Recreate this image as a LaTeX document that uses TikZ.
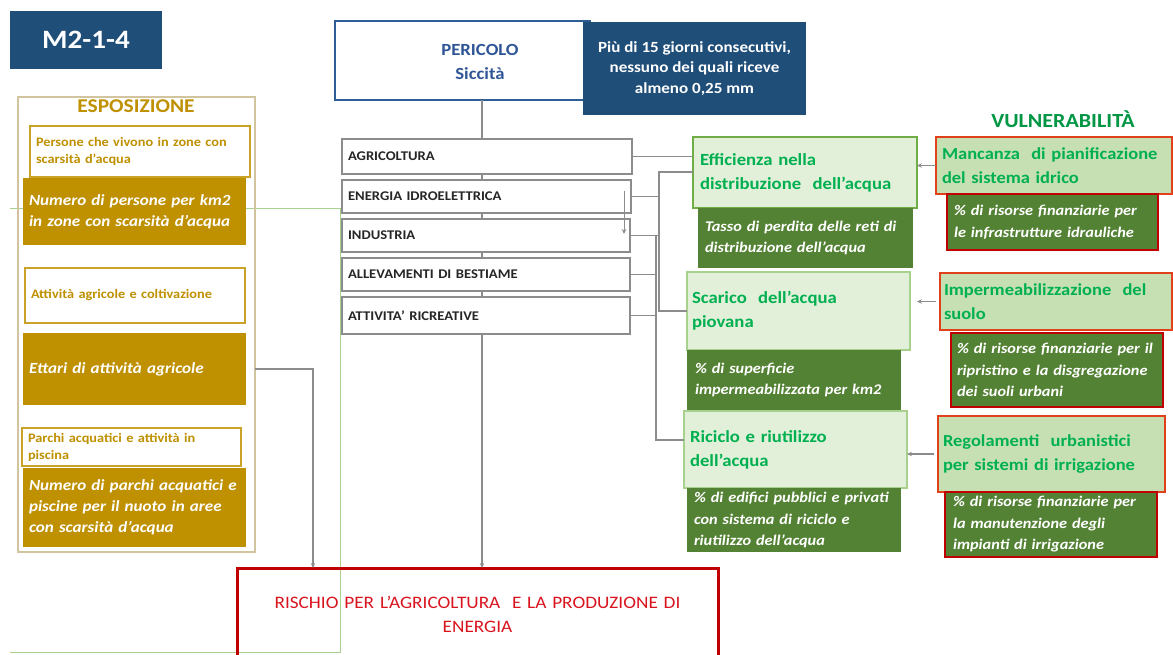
\documentclass[tikz,border=0pt]{standalone}
\usepackage{fontspec}
\setmainfont{Carlito}[FakeStretch=1.1]
\usetikzlibrary{arrows.meta}
\definecolor{dblue}{HTML}{1F4E79}
\definecolor{pblue}{HTML}{2E5E96}
\definecolor{ptext}{HTML}{2F5597}
\definecolor{gold}{HTML}{BF9000}
\definecolor{goldline}{HTML}{C9A227}
\definecolor{tanline}{HTML}{D2C49E}
\definecolor{lgray}{HTML}{8C8C8C}
\definecolor{gtext}{HTML}{00B050}
\definecolor{lgreen}{HTML}{E2F0D9}
\definecolor{lgreenb}{HTML}{C6E0B4}
\definecolor{gborder}{HTML}{70AD47}
\definecolor{gborderb}{HTML}{A9D18E}
\definecolor{dgreen}{HTML}{548235}
\definecolor{rborder}{HTML}{E0401A}
\definecolor{dred}{HTML}{C00000}
\definecolor{risktext}{HTML}{D9141E}
\newcommand{\fsz}[2]{\fontsize{#1}{#2}\selectfont}
\begin{document}
\begin{tikzpicture}[x=1pt,y=-1pt,
  every node/.style={inner ysep=0pt, outer sep=0pt},
  bxbase/.style={anchor=north west, align=left, inner xsep=6pt},
  gline/.style={draw=gborderb, line width=0.8pt},
  espbox/.style={anchor=north west, draw=tanline, line width=1.2pt},
  pbox/.style={bxbase, draw=goldline, line width=2pt, fill=white, text=gold, font=\fsz{13}{17}\bfseries},
  nbox/.style={bxbase, fill=gold, text=white, font=\fsz{15.5}{21}\bfseries\itshape},
  sector/.style={bxbase, draw=lgray, line width=1.8pt, fill=white, text=black!85, font=\fsz{13.3}{15}\bfseries},
  gbox/.style={bxbase, draw=gborder, line width=1.5pt, fill=lgreen, text=gtext, font=\fsz{17}{24}\bfseries},
  dbox/.style={bxbase, fill=dgreen, text=white, font=\fsz{14.8}{21.5}\bfseries\itshape},
  rbox/.style={bxbase, draw=rborder, line width=2pt, fill=lgreenb, text=gtext, font=\fsz{16.8}{24}\bfseries},
  rdbox/.style={dbox, draw=dred, line width=1.5pt},
  conn/.style={draw=lgray, line width=1.3pt},
  arr/.style={conn, -{Stealth[length=5pt,width=4.5pt]}}]
\useasboundingbox (0,0) rectangle (1173,654);

% thin green frame line
\draw[gline] (10,208) -- (340,208) -- (340,652) -- (10,652);

% title
\node[fill=dblue, anchor=north west, minimum width=152pt, minimum height=58pt, text=white, font=\fsz{26.5}{30}\bfseries] (m2) at (10,11) {M2-1-4};

% ESPOSIZIONE
\node[espbox, minimum width=237pt, minimum height=455pt] (esp) at (18,97) {};
\node[text=gold, font=\fsz{19.5}{20}\bfseries] (esptitle) at (136,106) {ESPOSIZIONE};
\node[pbox, minimum width=220pt, minimum height=51pt, text width=208pt] (p1) at (30,126) {Persone che vivono in zone con\\scarsità d'acqua};
\node[nbox, minimum width=223pt, minimum height=67pt, text width=211pt] (n1) at (23,178) {Numero di persone per km2\\in zone con scarsità d'acqua};
\node[pbox, minimum width=220pt, minimum height=55pt, text width=208pt] (p2) at (25,268) {Attività agricole e coltivazione};
\node[nbox, minimum width=223pt, minimum height=72pt, text width=211pt] (n2) at (23,333) {Ettari di attività agricole};
\node[pbox, minimum width=219pt, minimum height=38pt, text width=207pt] (p3) at (22,428) {Parchi acquatici e attività in\\piscina};
\node[nbox, minimum width=223pt, minimum height=79pt, text width=211pt] (n3) at (23,468) {Numero di parchi acquatici e\\piscine per il nuoto in aree\\con scarsità d'acqua};

% PERICOLO
\node[anchor=north west, draw=pblue, line width=2.5pt, fill=white, minimum width=255pt, minimum height=79pt] (per) at (335,21) {};
\node[text=ptext, font=\fsz{17}{24}\bfseries, align=center] (pertxt) at (480,62) {PERICOLO\\Siccità};
\node[anchor=north west, fill=dblue, text=white, minimum width=223pt, minimum height=93pt, align=center, font=\fsz{15.5}{20.5}\bfseries] (haz) at (583,22) {Più di 15 giorni consecutivi,\\nessuno dei quali riceve\\almeno 0,25 mm};

% sectors
\node[sector, minimum width=290pt, minimum height=35pt, text width=278pt] (s1) at (342,139) {AGRICOLTURA};
\node[sector, minimum width=289pt, minimum height=33pt, text width=277pt] (s2) at (342,180) {ENERGIA IDROELETTRICA};
\node[sector, minimum width=288pt, minimum height=33pt, text width=276pt] (s3) at (342,219) {INDUSTRIA};
\node[sector, minimum width=288pt, minimum height=33pt, text width=276pt] (s4) at (342,258) {ALLEVAMENTI DI BESTIAME};
\node[sector, minimum width=288pt, minimum height=37pt, text width=276pt] (s5) at (342,297) {ATTIVITA’ RICREATIVE};

% green (middle) column
\node[gbox, inner xsep=7pt, minimum width=224pt, minimum height=71pt, text width=210pt] (g1) at (693,137) {Efficienza nella\\distribuzione\ \ dell'acqua};
\node[dbox, inner xsep=7pt, minimum width=215pt, minimum height=60pt, text width=201pt] (d1) at (698,208) {Tasso di perdita delle reti di\\distribuzione dell'acqua};
\node[gbox, draw=gborderb, inner xsep=5pt, minimum width=223pt, minimum height=78pt, text width=213pt] (g2) at (687,272) {Scarico\ \ dell'acqua\\piovana};
\node[dbox, inner xsep=8pt, minimum width=214pt, minimum height=60pt, text width=198pt] (d2) at (687,350) {\% di superficie\\impermeabilizzata per km2};
\node[gbox, draw=gborderb, inner xsep=6pt, minimum width=223pt, minimum height=77pt, text width=211pt] (g3) at (684,411) {Riciclo e riutilizzo\\dell'acqua};
\node[dbox, inner xsep=7pt, minimum width=214pt, minimum height=64pt, text width=200pt] (d3) at (687,488) {\% di edifici pubblici e privati\\con sistema di riciclo e\\riutilizzo dell'acqua};

% VULNERABILITA column
\node[text=gtext!85!black, font=\fsz{20}{22}\bfseries] (vultitle) at (1063,119) {VULNERABILITÀ};
\node[rbox, minimum width=236pt, minimum height=57pt, text width=224pt] (r1) at (936,137) {Mancanza\ \ di pianificazione\\del sistema idrico};
\node[rdbox, inner xsep=7pt, minimum width=211pt, minimum height=56pt, text width=197pt] (rd1) at (947,194) {\% di risorse finanziarie per\\le infrastrutture idrauliche};
\node[rbox, inner xsep=4pt, minimum width=232pt, minimum height=57pt, text width=224pt] (r2) at (940,273) {Impermeabilizzazione\ \ del\\suolo};
\node[rdbox, minimum width=212pt, minimum height=74pt, text width=200pt] (rd2) at (951,333) {\% di risorse finanziarie per il\\ripristino e la disgregazione\\dei suoli urbani};
\node[rbox, inner xsep=5pt, minimum width=227pt, minimum height=76pt, text width=217pt] (r3) at (938,416) {Regolamenti\ \ urbanistici\\per sistemi di irrigazione};
\node[rdbox, inner xsep=8pt, minimum width=212pt, minimum height=65pt, text width=196pt] (rd3) at (945,492) {\% di risorse finanziarie per\\la manutenzione degli\\impianti di irrigazione};

% RISCHIO
\node[anchor=north west, draw=dred, line width=3pt, minimum width=481pt, minimum height=92pt, text=risktext, font=\fsz{17.5}{24}, align=center, text width=470pt] (risk) at (237,568) {RISCHIO PER L’AGRICOLTURA\ \ E LA PRODUZIONE DI\\ENERGIA};

% connectors
\coordinate (bx) at (482,0);
\coordinate (ex) at (313,0);
\coordinate (ba) at (659,0);
\coordinate (bb) at (656,0);
\coordinate (ya) at (0,172);
\coordinate (yc) at (0,440);
\coordinate (ia) at (624,191);
\coordinate (ib) at (624,234);

\draw[conn] (per.south -| bx) -- (s1.north -| bx);
\draw[conn] (s1.south -| bx) -- (s2.north -| bx);
\draw[conn] (s2.south -| bx) -- (s3.north -| bx);
\draw[conn] (s3.south -| bx) -- (s4.north -| bx);
\draw[conn] (s4.south -| bx) -- (s5.north -| bx);
\draw[arr] (s5.south -| bx) -- (risk.north -| bx);
\draw[arr] (esp.east |- n2.east) -| (risk.north -| ex);

\draw[conn] (s1.east) -- (s1.east -| g1.west);
\draw[conn] (ya -| g1.west) -- (ya -| ba) -- (ba |- g2.west) -- (g2.west);
\draw[conn] (s2.east) -- (s2.east -| ba);
\draw[conn] (s3.east) -- (s3.east -| ba);
\draw[conn] (s4.east) -- (s4.east -| bb);
\draw[conn] (s5.east) -- (s5.east -| bb);
\draw[conn] (bb |- s3.east) -- (bb |- yc) -- (yc -| g3.west);
\draw[arr, line width=1pt] (ia) -- (ib);

\draw[arr] (r1.west) -- (r1.west -| g1.east);
\draw[arr, shorten <=4pt, shorten >=7pt] (r2.west) -- (r2.west -| g2.east);
\draw[arr, shorten <=4pt] (r3.west) -- (r3.west -| g3.east);
\end{tikzpicture}
\end{document}
